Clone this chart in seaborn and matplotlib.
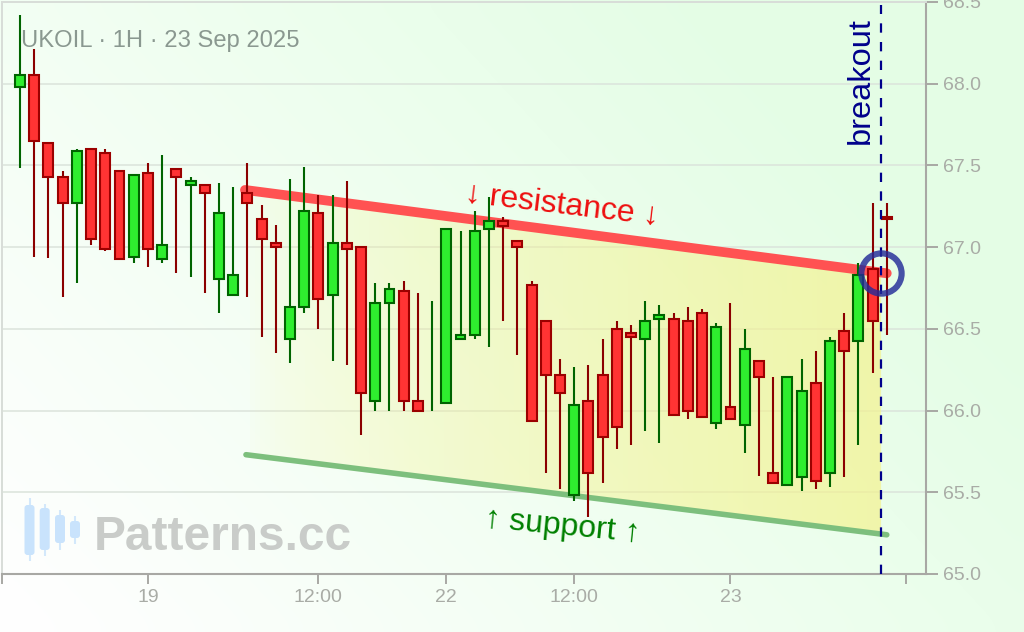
import numpy as np
import pandas as pd
import matplotlib
matplotlib.use('Agg')
import matplotlib.pyplot as plt
import seaborn as sns
from matplotlib.patches import FancyBboxPatch, Polygon

# candles
opens = [67.982, 68.055, 67.639, 67.431, 67.272, 67.602, 67.578, 67.467, 66.941, 67.455,
         66.929, 67.480, 67.382, 67.382, 66.807, 66.709, 67.333, 67.174, 67.027, 66.439,
         66.635, 67.210, 66.709, 67.027, 67.002, 66.060, 66.660, 66.733, 66.060, 65.999,
         66.048, 66.439, 66.464, 67.113, 67.161, 67.039, 66.770, 66.549, 66.219, 65.485,
         66.060, 66.219, 66.501, 66.476, 66.439, 66.562, 66.562, 66.549, 66.598, 65.925,
         66.023, 65.913, 66.305, 65.619, 65.546, 65.595, 66.170, 65.619, 66.488, 66.427,
         66.868, 67.186]
highs = [68.422, 68.214, 67.639, 67.467, 67.602, 67.602, 67.602, 67.467, 67.443, 67.516,
         67.565, 67.480, 67.431, 67.382, 67.394, 67.370, 67.516, 67.259, 67.137, 67.418,
         67.492, 67.321, 67.321, 67.406, 67.002, 66.782, 66.782, 66.794, 66.721, 66.672,
         67.113, 67.100, 67.223, 67.308, 67.186, 67.039, 66.794, 66.549, 66.317, 66.268,
         66.280, 66.439, 66.549, 66.525, 66.672, 66.647, 66.598, 66.635, 66.623, 66.537,
         66.660, 66.501, 66.305, 66.207, 66.207, 66.317, 66.366, 66.452, 66.598, 66.904,
         67.272, 67.272]
lows = [67.486, 66.941, 66.935, 66.696, 66.782, 67.015, 66.978, 66.929, 66.904, 66.880,
        66.904, 66.843, 66.819, 66.721, 66.598, 66.709, 66.696, 66.452, 66.354, 66.292,
        66.598, 66.501, 66.305, 66.280, 65.852, 65.999, 65.999, 65.999, 65.999, 65.999,
        66.048, 66.433, 66.439, 66.390, 66.549, 66.341, 65.937, 65.619, 65.521, 65.448,
        65.350, 65.558, 65.766, 65.791, 65.876, 65.803, 65.968, 65.950, 65.956, 65.888,
        65.944, 65.742, 65.601, 65.558, 65.546, 65.509, 65.521, 65.533, 65.595, 65.791,
        66.231, 66.464]
closes = [68.055, 67.651, 67.431, 67.272, 67.590, 67.051, 66.990, 66.929, 67.443, 66.990,
          67.015, 67.431, 67.406, 67.333, 67.210, 66.831, 67.272, 67.051, 67.002, 66.635,
          67.223, 66.684, 67.027, 66.990, 66.109, 66.660, 66.745, 66.060, 65.999, 65.999,
          67.113, 66.464, 67.100, 67.161, 67.131, 67.002, 65.937, 66.219, 66.109, 66.035,
          65.619, 65.840, 65.901, 66.452, 66.549, 66.586, 65.974, 65.999, 65.962, 66.513,
          65.950, 66.378, 66.207, 65.558, 66.207, 66.121, 65.570, 66.427, 66.366, 66.831,
          66.549, 67.174]

x_ticks = [-1.27, 9, 21, 30, 39, 50, 62.35]
x_labels = ['', '19', '12:00', '22', '12:00', '23', '']
y_ticks = [65.0, 65.5, 66.0, 66.5, 67.0, 67.5, 68.0, 68.5]

res_x = [15.83, 61.0]
res_y = [67.35, 66.84]
sup_x = [15.9, 61.0]
sup_y = [65.73, 65.24]
breakout_x = 60.6
breakout_y = 66.84

FONT = ['Liberation Sans', 'DejaVu Sans']
sns.set_theme(style='white', rc={'lines.solid_capstyle': 'butt'})
plt.rcParams['font.family'] = FONT

fig = plt.figure(figsize=(10.24, 6.32), dpi=100)

# page background
bg = fig.add_axes([0, 0, 1, 1], zorder=0)
xx, yy = np.meshgrid(np.linspace(0, 1, 64), np.linspace(0, 1, 40))
t = np.clip(0.8 * xx + 0.45 * (1 - yy), 0, 1)[..., None]
white = np.array([1.0, 1.0, 1.0])
mint = np.array([0.895, 0.995, 0.90])
bg.imshow(white * (1 - t) + mint * t, extent=(0, 1, 0, 1), aspect='auto', interpolation='bicubic')
bg.axis('off')

ax = fig.add_axes([2 / 1024, 58 / 632, 924 / 1024, 572 / 632], zorder=1)
ax.patch.set_alpha(0)
ax.set_xlim(-1.27, 63.76)
ax.set_ylim(65.0, 68.5)

# channel fill, fading in to the right
verts = [(res_x[0], res_y[0]), (breakout_x, np.interp(breakout_x, res_x, res_y)),
         (breakout_x, np.interp(breakout_x, sup_x, sup_y)), (sup_x[0], sup_y[0])]
clip = Polygon(verts, transform=ax.transData, fc='none', ec='none')
ax.add_patch(clip)
grad = np.zeros((2, 128, 4))
grad[..., :3] = (0.96, 0.95, 0.55)
grad[..., 3] = 0.68 * np.linspace(0, 1, 128) ** 0.6
im = ax.imshow(grad, extent=(res_x[0], breakout_x, 65.0, 67.4), aspect='auto', zorder=1.5)
im.set_clip_path(clip)
ax.set_xlim(-1.27, 63.76)
ax.set_ylim(65.0, 68.5)

# trend lines
trend = pd.DataFrame({'x': res_x + sup_x, 'y': res_y + sup_y,
                      'line': ['res', 'res', 'sup', 'sup']})
sns.lineplot(data=trend[trend.line == 'res'], x='x', y='y', color='#ff5252', lw=7,
             solid_capstyle='round', zorder=2, ax=ax)
sns.lineplot(data=trend[trend.line == 'sup'], x='x', y='y', color='#7dbf7d', lw=4,
             solid_capstyle='round', zorder=2, ax=ax)

# candles
idx = np.arange(len(opens))
wicks = pd.DataFrame({
    'candle': np.r_[idx, idx],
    'price': highs + lows,
    'up': list(np.array(closes) >= np.array(opens)) * 2,
})
sns.lineplot(data=wicks, x='candle', y='price', units='candle', estimator=None, hue='up',
             palette={True: '#006400', False: '#8b0000'}, lw=1.5, legend=False, sort=False,
             zorder=3, ax=ax)
for i, (o, c) in enumerate(zip(opens, closes)):
    if o == c:
        continue
    up = c > o
    ax.bar(i, abs(c - o), bottom=min(o, c), width=0.7, zorder=4,
           color='#2fee2f' if up else '#ff3333',
           edgecolor='#006400' if up else '#9b0000', linewidth=1.5)

# breakout marker
ax.axvline(breakout_x, ymax=0.995, color='#00008b', lw=1.6, dashes=(4.2, 4.2), zorder=5)
ax.plot([breakout_x], [breakout_y], marker='o', ms=29, mfc='none', mec='#232b98', mew=4.4,
        alpha=0.82, zorder=6, clip_on=False)

# axes cosmetics
ax.set_xlabel('')
ax.set_ylabel('')
ax.set_xticks(x_ticks, x_labels)
ax.set_yticks(y_ticks, [f'{v:.1f}' for v in y_ticks])
ax.grid(axis='y', color='#dbe3db', lw=1.1)
ax.grid(axis='x', visible=False)
ax.set_axisbelow(True)
ax.yaxis.tick_right()
ax.tick_params(axis='y', right=True, length=8.5, width=1.4, color='#a8a8a4', pad=3.5,
               labelsize=14, labelcolor='#a9aca6')
ax.tick_params(axis='x', bottom=True, length=7, width=1.4, color='#a8a8a4', pad=4,
               labelsize=14, labelcolor='#a9aca6')
for side in ('right', 'bottom'):
    ax.spines[side].set_color('#a8a8a4')
    ax.spines[side].set_linewidth(1.5)
for side in ('left', 'top'):
    ax.spines[side].set_color('#d8ddd8')
    ax.spines[side].set_linewidth(1.4)

# overlay in image pixels for labels and the logo
ov = fig.add_axes([0, 0, 1, 1], zorder=2)
ov.set_xlim(0, 1024)
ov.set_ylim(632, 0)
ov.axis('off')
ov.text(21, 41.5, 'UKOIL · 1H · 23 Sep 2025', fontsize=17.1, color='#8a9890', va='center')
ov.text(562, 205, '↓ resistance ↓', fontsize=23, color='#ee0f0f', rotation=-6.8,
        rotation_mode='anchor', ha='center', va='center')
ov.text(562, 527, '↑ support ↑', fontsize=23, color='#008000', rotation=-5.5,
        rotation_mode='anchor', ha='center', va='center')
ov.text(861, 81, 'breakout', fontsize=23.4, color='#00008b', rotation=90, ha='center', va='center')

logo_x = [29.5, 44.7, 60, 75]
logo_top = [507, 510, 517, 523]
logo_bot = [553, 548, 541, 536]
logo_hi = [498, 504, 510, 516]
logo_lo = [561, 556, 550, 544]
for x, top, bot, hi, lo in zip(logo_x, logo_top, logo_bot, logo_hi, logo_lo):
    ov.plot([x, x], [hi, lo], color='#d3e8fb', lw=1.5, zorder=1)
    ov.add_patch(FancyBboxPatch((x - 3, top), 6, bot - top, boxstyle='round,pad=2,rounding_size=3',
                                fc='#c9e3fc', ec='none', zorder=2))
ov.text(94, 537, 'Patterns.cc', fontsize=34.5, fontweight='bold', color='#c9ccc9', va='center')

fig.savefig('out.png', dpi=100)
